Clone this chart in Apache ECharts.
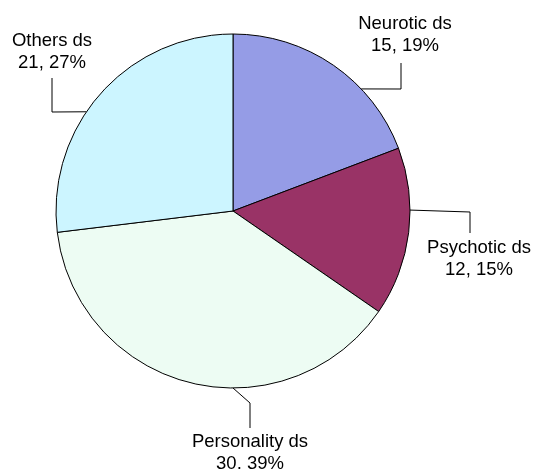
<!DOCTYPE html>
<html>
<head>
<meta charset="utf-8">
<script src="https://cdn.jsdelivr.net/npm/echarts@6/dist/echarts.min.js"></script>
<style>
  html, body { margin: 0; padding: 0; background: #fff; }
  #chart { width: 534px; height: 469px; }
</style>
</head>
<body>
<div id="chart"></div>
<script>
const categories = ['Neurotic ds', 'Psychotic ds', 'Personality ds', 'Others ds']
const values = [15, 12, 30, 21]
const colors = ['#959CE6', '#993366', '#EDFCF3', '#CCF5FF']

// pie geometry (px)
const cx = 233
const cy = 211
const radius = 177

// where each leader line leaves the pie (degrees, counter-clockwise from 3 o'clock),
// the elbow point and where the label sits
const leaders = [
  { angle: 43.6, elbow: [401, 89], end: [401, 63], label: [405, 35] },
  { angle: 0.3, elbow: [470, 212], end: [470, 233], label: [479, 259] },
  { angle: 270, elbow: [250, 403], end: [250, 428], label: [250, 453] },
  { angle: 145.9, elbow: [52, 112], end: [52, 78], label: [52, 52] }
]

function edgePoint(deg) {
  const a = deg * Math.PI / 180
  return [cx + radius * Math.cos(a), cy - radius * Math.sin(a)]
}

const chart = echarts.init(document.getElementById('chart'), null, { renderer: 'canvas' })
chart.setOption({
  backgroundColor: '#fff',
  animation: false,
  series: [
    {
      type: 'pie',
      center: [cx, cy],
      radius: radius,
      startAngle: 90,
      clockwise: true,
      percentPrecision: 0,
      data: categories.map((name, i) => ({
        name: name,
        value: values[i],
        itemStyle: { color: colors[i] }
      })),
      itemStyle: {
        borderColor: '#000',
        borderWidth: 1
      },
      label: {
        show: true,
        position: 'outside',
        alignTo: 'none',
        overflow: 'none',
        formatter: '{b}\n{c}, {d}%',
        color: '#000',
        fontFamily: 'Liberation Sans, Arial, sans-serif',
        fontSize: 18.5,
        lineHeight: 22,
        align: 'center'
      },
      labelLine: {
        show: true,
        smooth: false,
        lineStyle: { color: '#000', width: 1 }
      },
      labelLayout: (params) => {
        const l = leaders[params.dataIndex]
        return {
          x: l.label[0],
          y: l.label[1],
          align: 'center',
          verticalAlign: 'middle',
          labelLinePoints: [edgePoint(l.angle), l.elbow, l.end]
        }
      },
      emphasis: { disabled: true }
    }
  ]
})
</script>
</body>
</html>
